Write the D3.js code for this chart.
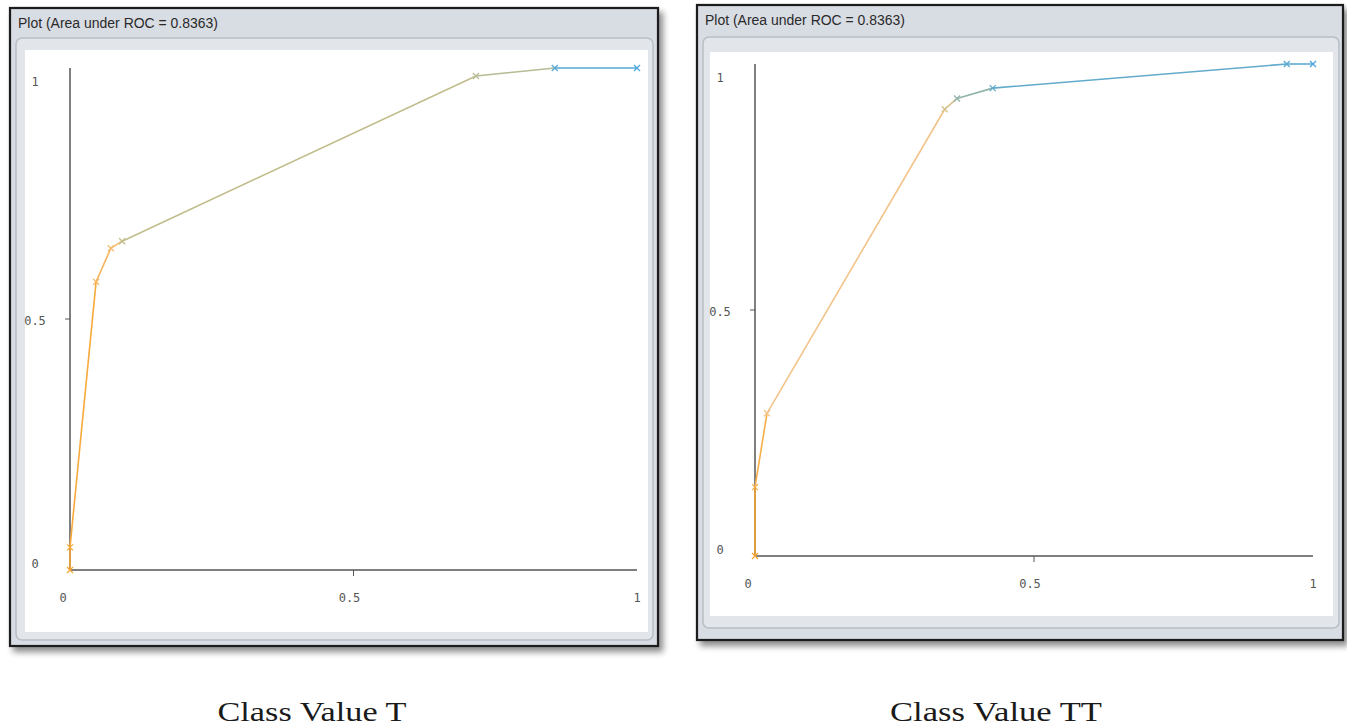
<!DOCTYPE html>
<html><head><meta charset="utf-8">
<script src="https://cdn.jsdelivr.net/npm/d3@7/dist/d3.min.js"></script>
<style>body{margin:0;background:#fff;}svg{display:block;}</style>
</head><body>
<svg id="chart" width="1347" height="726"></svg>
<script>
// ---- data ----
const tickValues = [0, 0.5, 1];
const tickLabels = ["0", "0.5", "1"];
const panelTitles = ["Plot (Area under ROC = 0.8363)", "Plot (Area under ROC = 0.8363)"];
const captions = ["Class Value T", "Class Value TT"];

const fprT = [0, 0, 0.046, 0.072, 0.092, 0.716, 0.855, 1];
const tprT = [0, 0.045, 0.574, 0.641, 0.655, 0.984, 1, 1];
const thresholdT = [1, 0.98, 0.9, 0.85, 0.5, 0.45, 0.05, 0];

const fprTT = [0, 0, 0.0215, 0.34, 0.362, 0.426, 0.953, 1];
const tprTT = [0, 0.14, 0.29, 0.908, 0.93, 0.951, 1, 1];
const thresholdTT = [1, 0.95, 0.8, 0.62, 0.3, 0.1, 0.05, 0];

// ---- layout ----
const svg = d3.select("#chart");
const defs = svg.append("defs");
const f = defs.append("filter").attr("id","shadow").attr("x","-5%").attr("y","-5%").attr("width","115%").attr("height","115%");
f.append("feDropShadow").attr("dx",4).attr("dy",5).attr("stdDeviation",3).attr("flood-color","#000").attr("flood-opacity",0.45);

const color = d3.scaleLinear().domain([0, 0.5, 0.8, 1])
  .range(["#4aa6dc", "#c2bd8c", "#f3c48a", "#f8a632"]);

const panels = [
  {frame:{x:10,y:8,w:648,h:638}, inner:{x:16,y:38,w:637,h:602}, white:{x:25,y:50,w:623,h:582},
   plot:{x0:70,x1:637,y0:570,y1:68}, ylabX:35, fpr:fprT, tpr:tprT, thr:thresholdT, caption:312},
  {frame:{x:697,y:5,w:646,h:635}, inner:{x:703,y:37,w:636,h:591}, white:{x:710,y:52,w:623,h:564},
   plot:{x0:755,x1:1313,y0:556,y1:64}, ylabX:720, fpr:fprTT, tpr:tprTT, thr:thresholdTT, caption:996}
];

panels.forEach((p, pi) => {
  const g = svg.append("g");
  const fr = p.frame;
  g.append("rect").attr("x",fr.x).attr("y",fr.y).attr("width",fr.w).attr("height",fr.h)
    .attr("fill","#d8dce3").attr("stroke","#1c1c1c").attr("stroke-width",2.2).attr("filter","url(#shadow)");
  g.append("text").attr("x",fr.x+8).attr("y",fr.y+20)
    .attr("font-family","'Liberation Sans Narrow','Liberation Sans',sans-serif").attr("font-size",14)
    .attr("fill","#2a2a2a").attr("textLength",200).attr("lengthAdjust","spacingAndGlyphs")
    .text(panelTitles[pi]);
  const inn = p.inner;
  g.append("rect").attr("x",inn.x).attr("y",inn.y).attr("width",inn.w).attr("height",inn.h).attr("rx",6)
    .attr("fill","#e2e5ea").attr("stroke","#b9bec6").attr("stroke-width",1.5);
  const wh = p.white;
  g.append("rect").attr("x",wh.x).attr("y",wh.y).attr("width",wh.w).attr("height",wh.h).attr("fill","#ffffff");

  const x = d3.scaleLinear().domain([0,1]).range([p.plot.x0, p.plot.x1]);
  const y = d3.scaleLinear().domain([0,1]).range([p.plot.y0, p.plot.y1]);

  // axes
  g.append("line").attr("x1",x(0)).attr("x2",x(0)).attr("y1",y(1)).attr("y2",y(0)).attr("stroke","#555").attr("stroke-width",1.5);
  g.append("line").attr("x1",x(0)).attr("x2",x(1)).attr("y1",y(0)).attr("y2",y(0)).attr("stroke","#555").attr("stroke-width",1.5);
  g.append("line").attr("x1",x(0.5)).attr("x2",x(0.5)).attr("y1",y(0)).attr("y2",y(0)+6).attr("stroke","#555");
  g.append("line").attr("x1",x(0)-5).attr("x2",x(0)).attr("y1",y(0.5)).attr("y2",y(0.5)).attr("stroke","#555");

  const fontT = "'DejaVu Sans Mono',monospace";
  const xOff = [-7, -4, 0];
  tickValues.forEach((v,i) => {
    g.append("text").attr("x",x(v)+xOff[i]).attr("y",y(0)+32).attr("text-anchor","middle")
      .attr("font-family",fontT).attr("font-size",12).attr("fill","#555").text(tickLabels[i]);
  });
  const yOff = [-2, 6, 18];
  tickValues.forEach((v,i) => {
    g.append("text").attr("x",p.ylabX).attr("y",y(v)+yOff[i]).attr("text-anchor","middle")
      .attr("font-family",fontT).attr("font-size",12).attr("fill","#555").text(tickLabels[i]);
  });

  // curve segments coloured by threshold of start point
  const pts = p.fpr.map((d,i)=>({x:d, y:p.tpr[i], t:p.thr[i]}));
  for (let i=0;i<pts.length-1;i++){
    g.append("line").attr("x1",x(pts[i].x)).attr("y1",y(pts[i].y))
      .attr("x2",x(pts[i+1].x)).attr("y2",y(pts[i+1].y))
      .attr("stroke",color(pts[i].t)).attr("stroke-width",1.6).attr("stroke-linecap","round");
  }
  pts.forEach(d => {
    const cx = x(d.x), cy = y(d.y), s = 3;
    g.append("path").attr("d",`M${cx-s},${cy-s}L${cx+s},${cy+s}M${cx-s},${cy+s}L${cx+s},${cy-s}`)
      .attr("stroke",color(d.t)).attr("stroke-width",1.3);
  });

  svg.append("text").attr("x",p.caption).attr("y",721).attr("text-anchor","middle")
    .attr("font-family","'Liberation Serif','DejaVu Serif',serif").attr("font-size",28)
    .attr("fill","#1a1a1a").attr("textLength", pi===0?189:212).attr("lengthAdjust","spacingAndGlyphs")
    .text(captions[pi]);
});
</script>
</body></html>
